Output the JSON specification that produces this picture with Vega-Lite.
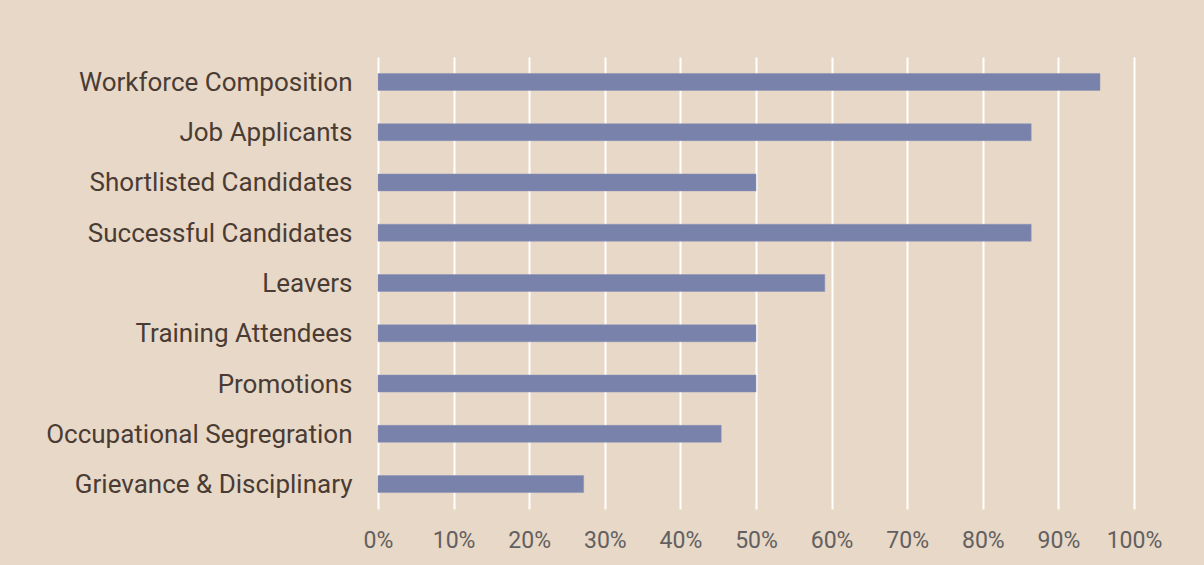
{
  "$schema": "https://vega.github.io/schema/vega-lite/v6.json",
  "width": 756,
  "height": 452,
  "autosize": {"type": "none"},
  "padding": {"left": 378, "top": 57, "right": 70, "bottom": 56},
  "background": "#e8d8c7",
  "data": {"values": [
    {"category": "Workforce Composition", "value": 0.955},
    {"category": "Job Applicants", "value": 0.864},
    {"category": "Shortlisted Candidates", "value": 0.5},
    {"category": "Successful Candidates", "value": 0.864},
    {"category": "Leavers", "value": 0.591},
    {"category": "Training Attendees", "value": 0.5},
    {"category": "Promotions", "value": 0.5},
    {"category": "Occupational Segregration", "value": 0.454},
    {"category": "Grievance & Disciplinary", "value": 0.272}
  ]},
  "mark": {"type": "bar", "color": "#7882ab", "stroke": "#8a93b8", "strokeWidth": 0.5},
  "encoding": {
    "y": {
      "field": "category", "type": "nominal", "sort": null,
      "scale": {"paddingInner": 0.663, "paddingOuter": 0.327},
      "axis": {"title": null, "domain": false, "ticks": false, "grid": false,
        "labelFont": "Roboto", "labelFontSize": 26, "labelColor": "#4a3c34", "labelPadding": 26, "labelLimit": 400, "labelOffset": 1}
    },
    "x": {
      "field": "value", "type": "quantitative",
      "scale": {"domain": [0, 1], "nice": false},
      "axis": {"title": null, "format": "%", "values": [0,0.1,0.2,0.3,0.4,0.5,0.6,0.7,0.8,0.9,1.0],
        "labelOverlap": false, "labelFlush": false,
        "domain": false, "ticks": false, "grid": true, "gridColor": "#ffffff", "gridWidth": 2, "gridOpacity": 1,
        "labelFont": "Roboto", "labelFontSize": 23, "labelColor": "#626060", "labelPadding": 20}
    }
  },
  "config": {"view": {"stroke": null, "fill": "#e8d8c7"}}
}
